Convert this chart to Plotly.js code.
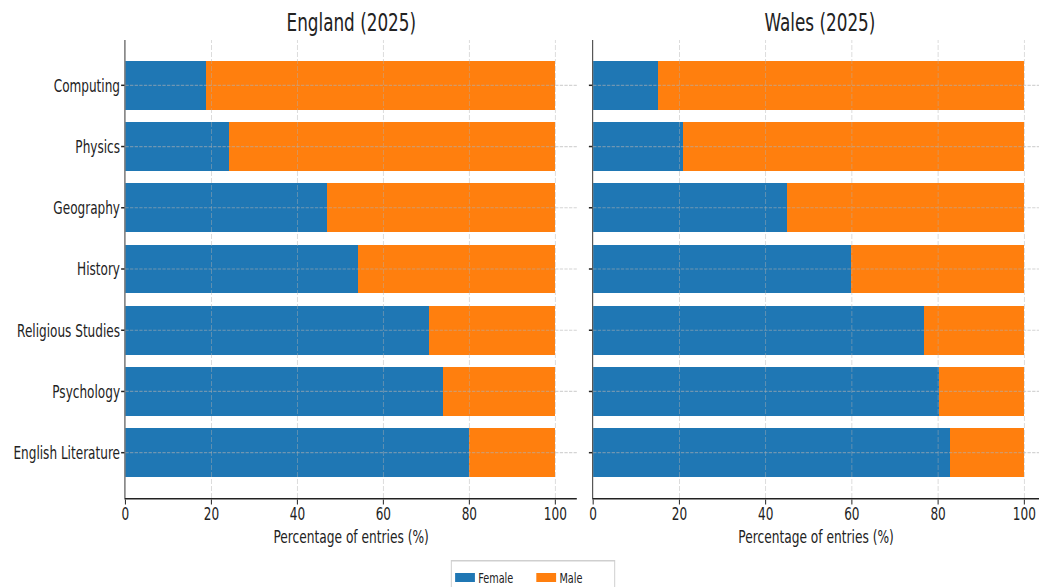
<!DOCTYPE html>
<html>
<head>
<meta charset="utf-8">
<script src="https://cdn.plot.ly/plotly-3.0.1.min.js"></script>
<style>
html,body{margin:0;padding:0;background:#fff;overflow:hidden;width:1039px;height:587px;}
#wrap{width:1574px;height:587px;transform:scaleX(0.6601);transform-origin:0 0;}
#chart{width:1574px;height:587px;}
</style>
</head>
<body>
<div id="wrap"><div id="chart"></div></div>
<script>
const subjects = ["English Literature", "Psychology", "Religious Studies", "History", "Geography", "Physics", "Computing"];
const englandFemale = [79.9, 73.9, 70.7, 54.1, 47.0, 24.2, 18.8];
const englandMale = englandFemale.map(v => +(100 - v).toFixed(1));
const walesFemale = [82.8, 80.2, 76.7, 59.9, 45.0, 20.8, 15.0];
const walesMale = walesFemale.map(v => +(100 - v).toFixed(1));
const panelTitles = ["England (2025)", "Wales (2025)"];
const seriesNames = ["Female", "Male"];
const xTickVals = [0, 20, 40, 60, 80, 100];
const xTitle = "Percentage of entries (%)";

const FONT = "DejaVu Sans, sans-serif";
const TXT = "#222";
const BLUE = "#1f77b4", ORANGE = "#ff7f0e";
const GRID = "rgba(176,176,176,0.55)";

function bar(x, name, color, xa, ya) {
  return {type: "bar", orientation: "h", y: subjects, x: x, name: name,
    marker: {color: color, line: {width: 0}}, width: 0.8,
    xaxis: xa, yaxis: ya, showlegend: false, legendgroup: name};
}
function legendItem(name, color) {
  return {type: "scatter", mode: "lines", x: [null], y: [null], name: name,
    line: {color: color, width: 9}, xaxis: "x", yaxis: "y", showlegend: true, legendgroup: name};
}

const data = [
  bar(englandFemale, seriesNames[0], BLUE, "x", "y"),
  bar(englandMale, seriesNames[1], ORANGE, "x", "y"),
  bar(walesFemale, seriesNames[0], BLUE, "x2", "y2"),
  bar(walesMale, seriesNames[1], ORANGE, "x2", "y2"),
  legendItem(seriesNames[0], BLUE),
  legendItem(seriesNames[1], ORANGE)
];

function xaxis(domain, anchor, maxv) {
  return {domain: domain, anchor: anchor, range: [0, maxv], autorange: false,
    tickvals: xTickVals, ticks: "outside", ticklen: 5, tickwidth: 1.5, tickcolor: "#222",
    showline: true, linecolor: "#222", linewidth: 1.5,
    showgrid: false, zeroline: false, automargin: false,
    ticklabelstandoff: -6,
    tickfont: {family: FONT, size: 18.3, color: TXT},
    title: {text: xTitle, font: {family: FONT, size: 18.5, color: TXT}, standoff: 6}};
}
function yaxis(domain, anchor, labels) {
  return {domain: domain, anchor: anchor, type: "category",
    categoryorder: "array", categoryarray: subjects,
    range: [-0.74, 6.74], autorange: false,
    ticks: "outside", ticklen: 5, tickwidth: 1.5, tickcolor: "#222",
    showline: true, linecolor: "#333", linewidth: 1.5,
    showgrid: false, zeroline: false, automargin: false, showticklabels: labels,
    ticklabelstandoff: -2,
    tickfont: {family: FONT, size: 18.3, color: TXT}};
}

// grid lines drawn above the bars, derived from tick values / categories
const shapes = [];
[["x", "y"], ["x2", "y2"]].forEach(([xa, ya]) => {
  xTickVals.filter(v => v > 0).forEach(v => shapes.push({type: "line", layer: "above",
    xref: xa, yref: ya + " domain", x0: v, x1: v, y0: 0, y1: 1,
    line: {color: GRID, width: 1.2, dash: "5px,2px"}}));
  subjects.forEach((s, i) => shapes.push({type: "line", layer: "above",
    xref: xa + " domain", yref: ya, x0: 0, x1: 1, y0: i, y1: i,
    line: {color: GRID, width: 1.2, dash: "5px,2px"}}));
});

const layout = {
  width: 1574, height: 587,
  margin: {l: 190, r: 0, t: 40, b: 89},
  paper_bgcolor: "#fff", plot_bgcolor: "#fff",
  barmode: "stack", bargap: 0.2,
  font: {family: FONT, color: TXT},
  xaxis: xaxis([0, 0.4941], "y", 105),
  yaxis: yaxis([0, 1], "x", true),
  xaxis2: xaxis([0.5120, 1], "y2", 103.4),
  yaxis2: yaxis([0, 1], "x2", false),
  shapes: shapes,
  showlegend: true,
  legend: {orientation: "h", xref: "container", yref: "container", x: 0.513, xanchor: "center", y: 0.046, yanchor: "top",
    bordercolor: "#cfcfcf", borderwidth: 1.5, bgcolor: "#fff",
    font: {family: FONT, size: 14.7, color: TXT}, traceorder: "normal",
    itemwidth: 30, entrywidth: 78, entrywidthmode: "pixels"},
  annotations: [
    {text: panelTitles[0], xref: "x", yref: "paper", x: 52.5, y: 1, yshift: 18, xanchor: "center", yanchor: "middle", showarrow: false, font: {family: FONT, size: 25.5, color: TXT}},
    {text: panelTitles[1], xref: "x2", yref: "paper", x: 52.5, y: 1, yshift: 18, xanchor: "center", yanchor: "middle", showarrow: false, font: {family: FONT, size: 25.5, color: TXT}}
  ]
};

Plotly.newPlot("chart", data, layout, {displayModeBar: false, staticPlot: true});
</script>
</body>
</html>
